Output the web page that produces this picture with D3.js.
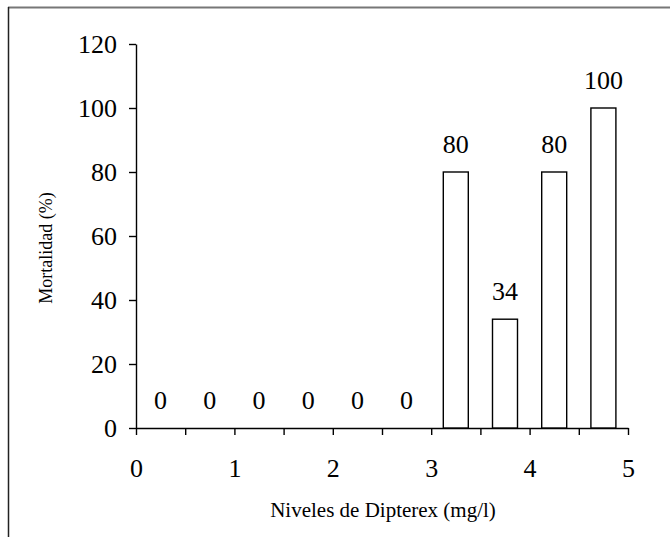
<!DOCTYPE html>
<html>
<head>
<meta charset="utf-8">
<script src="https://cdn.jsdelivr.net/npm/d3@7"></script>
<style>
    body { margin: 0; background: white; }
    svg { display: block; }
    text { font-family: "Liberation Serif", "Times New Roman", serif; }
</style>
</head>
<body>
<svg id="chart" width="670" height="537"></svg>
<script>
// datos
const niveles = [0.25, 0.75, 1.25, 1.75, 2.25, 2.75, 3.25, 3.75, 4.25, 4.75];
const mortalidad = [0, 0, 0, 0, 0, 0, 80, 34, 80, 100];
const yTicks = [0, 20, 40, 60, 80, 100, 120];
const xTicks = [0, 0.5, 1, 1.5, 2, 2.5, 3, 3.5, 4, 4.5, 5];

const serif = "Liberation Serif";
const svg = d3.select("#chart");
const margin = {left: 136, right: 42, top: 44, bottom: 109};
const W = 670, H = 537;

// marco
svg.append("line")
    .attr("x1", 8).attr("x2", W).attr("y1", 7.5).attr("y2", 7.5)
    .style("stroke", "#777").style("stroke-width", 2);
svg.append("line")
    .attr("x1", 8.5).attr("x2", 8.5).attr("y1", 7).attr("y2", H)
    .style("stroke", "#222").style("stroke-width", 1.5);

const x = d3.scaleLinear().domain([0, 5]).range([margin.left, W - margin.right]);
const y = d3.scaleLinear().domain([0, 120]).range([H - margin.bottom, margin.top]);
const barW = 25;

// ejes
const yAxis = svg.append("g")
    .attr("transform", `translate(${margin.left},0)`)
    .call(d3.axisLeft(y).tickValues(yTicks).tickSize(7).tickSizeOuter(0).tickPadding(12));
const xAxis = svg.append("g")
    .attr("transform", `translate(0,${H - margin.bottom})`)
    .call(d3.axisBottom(x).tickValues(xTicks).tickSize(7).tickSizeOuter(0).tickPadding(24)
        .tickFormat(d => Number.isInteger(d) ? d : ""));
[xAxis, yAxis].forEach(g => {
    g.attr("font-family", serif).attr("font-size", 26);
    g.selectAll("path, line").style("stroke", "#000").style("stroke-width", 1.4);
    g.selectAll("text")
        .attr("font-family", serif)
        .style("font-size", "26px")
        .style("fill", "#000");
});

// barras
svg.selectAll("rect.bar")
    .data(mortalidad)
    .join("rect")
    .attr("class", "bar")
    .attr("x", (d, i) => x(niveles[i]) - barW / 2)
    .attr("y", d => y(d))
    .attr("width", barW)
    .attr("height", d => y(0) - y(d))
    .style("fill", d => d === 0 ? "none" : "white")
    .style("stroke", d => d === 0 ? "none" : "#000")
    .style("stroke-width", 1.4);

// etiquetas de valor
svg.selectAll("text.value")
    .data(mortalidad)
    .join("text")
    .attr("class", "value")
    .attr("x", (d, i) => x(niveles[i]))
    .attr("y", d => y(d) - 19.5)
    .attr("text-anchor", "middle")
    .attr("font-family", serif)
    .style("font-size", "26px")
    .text(d => d);

// titulos
svg.append("text")
    .attr("x", 383)
    .attr("y", 517)
    .attr("text-anchor", "middle")
    .attr("font-family", serif)
    .style("font-size", "21px")
    .text("Niveles de Dipterex (mg/l)");
svg.append("text")
    .attr("transform", "translate(52,248) rotate(-90)")
    .attr("text-anchor", "middle")
    .attr("font-family", serif)
    .style("font-size", "18px")
    .text("Mortalidad (%)");
</script>
</body>
</html>
